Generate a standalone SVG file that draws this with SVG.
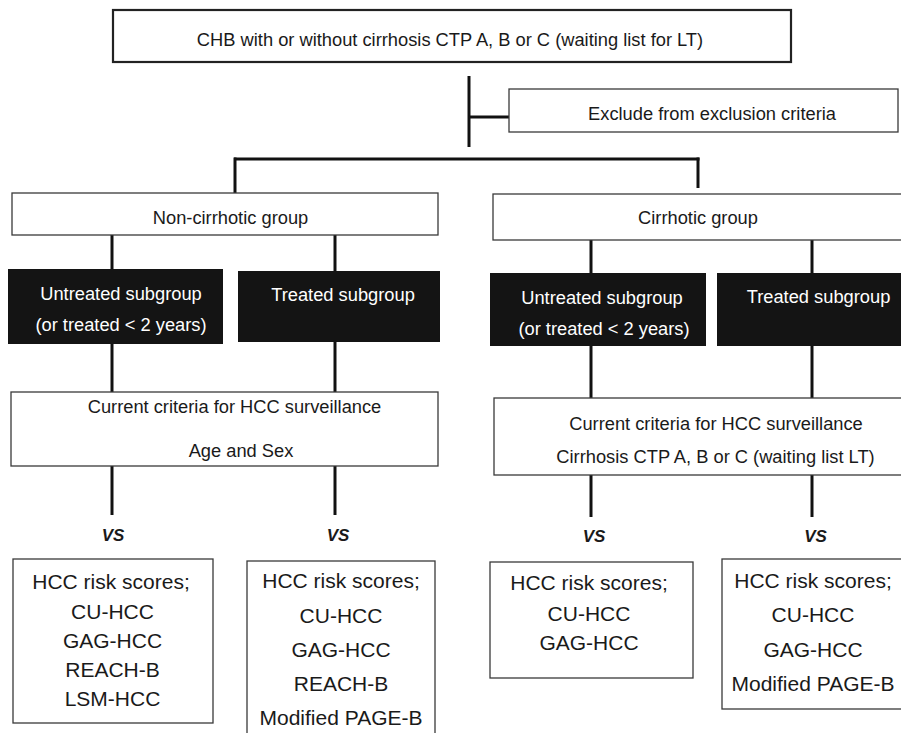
<svg xmlns="http://www.w3.org/2000/svg" width="901" height="733" viewBox="0 0 901 733">
<style>
  .box { fill: #fff; stroke: #3a3a3a; stroke-width: 1.3; }
  .main { fill: #fff; stroke: #222; stroke-width: 2.2; }
  .dark { fill: #141414; stroke: none; }
  text { font-family: "Liberation Sans", Arial, sans-serif; font-size: 18.3px; fill: #1a1a1a; text-anchor: middle; }
  .w { fill: #fff; }
  .big { font-size: 21px; }
  .vs { font-size: 17px; font-weight: bold; font-style: italic; }
  .conn line { stroke: #111; stroke-width: 3; }
</style>
<rect width="901" height="733" fill="#fff"/>
<g id="connectors" class="conn">
  <line x1="469" y1="76" x2="469" y2="147"/>
  <line x1="469" y1="117" x2="509" y2="117"/>
  <line x1="234" y1="159" x2="699.5" y2="159"/>
  <line x1="235" y1="157.5" x2="235" y2="193"/>
  <line x1="698" y1="157.5" x2="698" y2="188"/>
  <line x1="112" y1="235" x2="112" y2="269"/>
  <line x1="335" y1="235" x2="335" y2="271"/>
  <line x1="112" y1="344" x2="112" y2="392"/>
  <line x1="335" y1="342" x2="335" y2="392"/>
  <line x1="112" y1="466" x2="112" y2="515"/>
  <line x1="335" y1="466" x2="335" y2="515"/>
  <line x1="591" y1="240" x2="591" y2="273"/>
  <line x1="812" y1="240" x2="812" y2="273"/>
  <line x1="591" y1="346" x2="591" y2="398"/>
  <line x1="812" y1="346" x2="812" y2="398"/>
  <line x1="591" y1="475" x2="591" y2="517"/>
  <line x1="812" y1="475" x2="812" y2="517"/>
</g>
<g id="top">
  <rect class="main" x="113" y="10" width="678" height="52"/>
  <text x="450" y="46">CHB with or without cirrhosis CTP A, B or C (waiting list for LT)</text>
</g>
<g id="exclude">
  <rect class="box" x="509" y="89" width="389" height="43"/>
  <text x="712" y="120">Exclude from exclusion criteria</text>
</g>
<g id="noncirrhotic">
  <rect class="box" x="12" y="193" width="426" height="42"/>
  <text x="230.5" y="224">Non-cirrhotic group</text>
</g>
<g id="cirrhotic">
  <rect class="box" x="493" y="194" width="412" height="46"/>
  <text x="698" y="224">Cirrhotic group</text>
</g>
<g id="untreated-left">
  <rect class="dark" x="8" y="269" width="215" height="75"/>
  <text class="w" x="121" y="300">Untreated subgroup</text>
  <text class="w" x="121" y="331">(or treated &lt; 2 years)</text>
</g>
<g id="treated-left">
  <rect class="dark" x="238" y="271" width="202" height="71"/>
  <text class="w" x="343" y="301">Treated subgroup</text>
</g>
<g id="untreated-right">
  <rect class="dark" x="490" y="273" width="216" height="73"/>
  <text class="w" x="602" y="304">Untreated subgroup</text>
  <text class="w" x="604" y="335">(or treated &lt; 2 years)</text>
</g>
<g id="treated-right">
  <rect class="dark" x="717" y="273" width="190" height="73"/>
  <text class="w" x="818.5" y="303">Treated subgroup</text>
</g>
<g id="criteria-left">
  <rect class="box" x="11" y="392" width="427" height="74"/>
  <text x="234.5" y="413">Current criteria for HCC surveillance</text>
  <text x="241" y="457">Age and Sex</text>
</g>
<g id="criteria-right">
  <rect class="box" x="494" y="398" width="412" height="77"/>
  <text x="716" y="430">Current criteria for HCC surveillance</text>
  <text x="715.5" y="463">Cirrhosis CTP A, B or C (waiting list LT)</text>
</g>
<g id="vs-labels">
  <text class="vs" x="113" y="541">VS</text>
  <text class="vs" x="338" y="541">VS</text>
  <text class="vs" x="594" y="542">VS</text>
  <text class="vs" x="815.5" y="542">VS</text>
</g>
<g id="scores-1">
  <rect class="box" x="13" y="559" width="200" height="164"/>
  <text class="big" x="111" y="589">HCC risk scores;</text>
  <text class="big" x="112.5" y="619">CU-HCC</text>
  <text class="big" x="112.5" y="648">GAG-HCC</text>
  <text class="big" x="112.5" y="677">REACH-B</text>
  <text class="big" x="112.5" y="706">LSM-HCC</text>
</g>
<g id="scores-2">
  <rect class="box" x="247" y="561" width="188" height="185"/>
  <text class="big" x="341" y="588">HCC risk scores;</text>
  <text class="big" x="341" y="623">CU-HCC</text>
  <text class="big" x="341" y="657">GAG-HCC</text>
  <text class="big" x="341" y="691">REACH-B</text>
  <text class="big" x="341" y="725">Modified PAGE-B</text>
</g>
<g id="scores-3">
  <rect class="box" x="490" y="562" width="203" height="116"/>
  <text class="big" x="589" y="590">HCC risk scores;</text>
  <text class="big" x="589" y="621">CU-HCC</text>
  <text class="big" x="589" y="650">GAG-HCC</text>
</g>
<g id="scores-4">
  <rect class="box" x="722" y="559" width="190" height="150"/>
  <text class="big" x="813" y="588">HCC risk scores;</text>
  <text class="big" x="813" y="622">CU-HCC</text>
  <text class="big" x="813" y="657">GAG-HCC</text>
  <text class="big" x="813" y="691">Modified PAGE-B</text>
</g>
</svg>
